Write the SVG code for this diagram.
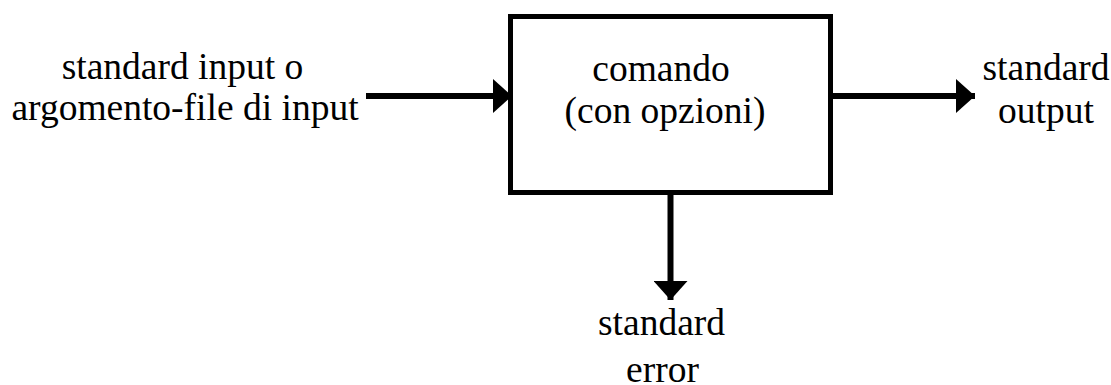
<svg xmlns="http://www.w3.org/2000/svg" width="1111" height="385" viewBox="0 0 1111 385">
<style>
.t{font-family:"Liberation Serif","Times New Roman",serif;font-size:37.5px;fill:#000;text-anchor:middle}
.ln{stroke:#000;stroke-width:6;fill:none}
.box{stroke:#000;stroke-width:5;fill:#fff}
</style>
<defs>
<marker id="ah" markerWidth="19" markerHeight="34" refX="19" refY="17" orient="auto" markerUnits="userSpaceOnUse">
<path d="M0,0 L19,17 L0,34 Z" fill="#000"/>
</marker>
</defs>
<g id="connectors">
<line class="ln" x1="366" y1="96" x2="512" y2="96" marker-end="url(#ah)"/>
<line class="ln" x1="833" y1="96" x2="975" y2="96" marker-end="url(#ah)"/>
<line class="ln" x1="670.5" y1="195" x2="670.5" y2="300" marker-end="url(#ah)"/>
</g>
<g id="comando">
<rect class="box" x="510.5" y="16.5" width="320" height="176"/>
<text class="t" x="661" y="81">comando</text>
<text class="t" x="665" y="123">(con opzioni)</text>
</g>
<g id="input">
<text class="t" x="182.5" y="79">standard input o</text>
<text class="t" x="185" y="120">argomento-file di input</text>
</g>
<g id="output">
<text class="t" x="1046" y="80">standard</text>
<text class="t" x="1046" y="123">output</text>
</g>
<g id="error">
<text class="t" x="661.5" y="335">standard</text>
<text class="t" x="662.5" y="382">error</text>
</g>
</svg>
